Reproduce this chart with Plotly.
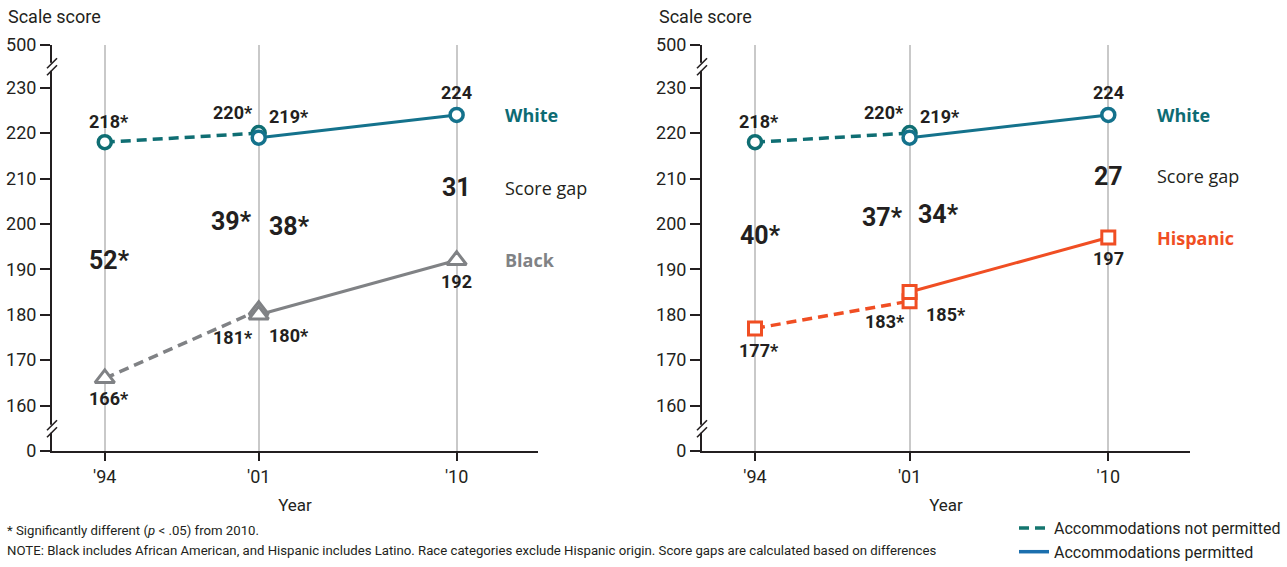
import plotly.graph_objects as go

# ---------------- data ----------------
years_np = [1994, 2001]          # accommodations not permitted
years_p = [2001, 2010]           # accommodations permitted

white_np = [218, 220]
white_np_sig = [True, True]
white_p = [219, 224]
white_p_sig = [True, False]

black_np = [166, 181]
black_np_sig = [True, True]
black_p = [180, 192]
black_p_sig = [True, False]

hisp_np = [177, 183]
hisp_np_sig = [True, True]
hisp_p = [185, 197]
hisp_p_sig = [True, False]

gap_black_np = [52, 39]
gap_black_np_sig = [True, True]
gap_black_p = [38, 31]
gap_black_p_sig = [True, False]

gap_hisp_np = [40, 37]
gap_hisp_np_sig = [True, True]
gap_hisp_p = [34, 27]
gap_hisp_p_sig = [True, False]

x_tickvals = [1994, 2001, 2010]
x_ticktext = ["'94", "'01", "'10"]
y_ticktext = ["0", "160", "170", "180", "190", "200", "210", "220", "230", "500"]

# ---------------- styles ----------------
W, H = 1287, 567
TEXT = "#231f20"
TEAL_NP = "#0f6e73"
TEAL_P = "#14728c"
TEAL_LAB = "#0d6b73"
GRAY = "#808285"
ORANGE = "#f04e23"
LEG_NP = "#14766f"
LEG_P = "#1b6fae"
COND = "Roboto, Liberation Sans, sans-serif"
SANS = "Open Sans, Lato, sans-serif"

# broken axis: 0 drawn one step below 160, 500 drawn just above 230
y_tickvals = [150, 160, 170, 180, 190, 200, 210, 220, 230, 239.4]
Y_RANGE = [150, 239.4]
X_RANGE = [1991.6, 2013.7]


def px_x(p):
    return p / W


def px_y(p):
    return 1 - p / H


def lab(v, s):
    return f"{v}*" if s else f"{v}"


fig = go.Figure()
annotations = []
shapes = []

panels = [
    dict(xa="x", ya="y", xdom=[px_x(52), px_x(538)],
         other_np=black_np, other_np_sig=black_np_sig,
         other_p=black_p, other_p_sig=black_p_sig,
         gap_np=gap_black_np, gap_np_sig=gap_black_np_sig,
         gap_p=gap_black_p, gap_p_sig=gap_black_p_sig,
         color=GRAY, symbol="triangle-up", msize=17,
         name="Black", oth_np_place=[("center", 4, -20), ("right", -4, -27)],
         oth_p_place=[("left", 8, -21), ("center", 0, -21)],
         gap_np_shift=[("center", 5), ("right", -5)],
         gap_p_shift=[("left", 8), ("center", 0)],
         side_shift=46, scale_x=6),
    dict(xa="x2", ya="y2", xdom=[px_x(702), px_x(1190)],
         other_np=hisp_np, other_np_sig=hisp_np_sig,
         other_p=hisp_p, other_p_sig=hisp_p_sig,
         gap_np=gap_hisp_np, gap_np_sig=gap_hisp_np_sig,
         gap_p=gap_hisp_p, gap_p_sig=gap_hisp_p_sig,
         color=ORANGE, symbol="square", msize=13,
         name="Hispanic", oth_np_place=[("center", 4, -22), ("right", -3, -20)],
         oth_p_place=[("left", 14, -22), ("center", 0, -21)],
         gap_np_shift=[("center", 5), ("right", -5)],
         gap_p_shift=[("left", 6), ("center", 0)],
         side_shift=47, scale_x=657),
]

white_np_place = [("center", 4, 21), ("right", -4, 21)]
white_p_place = [("left", 8, 21), ("center", 0, 22)]

for P in panels:
    xa, ya = P["xa"], P["ya"]
    # white
    fig.add_trace(go.Scatter(x=years_np, y=white_np, xaxis=xa, yaxis=ya, mode="lines+markers",
                             line=dict(color=TEAL_NP, width=3.5, dash="10px,6px"),
                             marker=dict(symbol="circle", size=13, color="white",
                                         line=dict(color=TEAL_NP, width=3.5)),
                             showlegend=False, hoverinfo="skip"))
    fig.add_trace(go.Scatter(x=years_p, y=white_p, xaxis=xa, yaxis=ya, mode="lines+markers",
                             line=dict(color=TEAL_P, width=3),
                             marker=dict(symbol="circle", size=13, color="white",
                                         line=dict(color=TEAL_P, width=3.5)),
                             showlegend=False, hoverinfo="skip"))
    # comparison group
    fig.add_trace(go.Scatter(x=years_np, y=P["other_np"], xaxis=xa, yaxis=ya, mode="lines+markers",
                             line=dict(color=P["color"], width=3.5, dash="10px,6px"),
                             marker=dict(symbol=P["symbol"], size=P["msize"], color="white",
                                         line=dict(color=P["color"], width=3)),
                             showlegend=False, hoverinfo="skip"))
    fig.add_trace(go.Scatter(x=years_p, y=P["other_p"], xaxis=xa, yaxis=ya, mode="lines+markers",
                             line=dict(color=P["color"], width=3),
                             marker=dict(symbol=P["symbol"], size=P["msize"], color="white",
                                         line=dict(color=P["color"], width=3)),
                             showlegend=False, hoverinfo="skip"))

    lab_font = dict(family=COND, size=18, color=TEXT, weight="bold")
    series = [
        (years_np, white_np, white_np_sig, white_np_place),
        (years_p, white_p, white_p_sig, white_p_place),
        (years_np, P["other_np"], P["other_np_sig"], P["oth_np_place"]),
        (years_p, P["other_p"], P["other_p_sig"], P["oth_p_place"]),
    ]
    for xs, ys, sg, place in series:
        for x, y, s, (anc, xs_, ys_) in zip(xs, ys, sg, place):
            annotations.append(dict(x=x, y=y, xref=xa, yref=ya, text=lab(y, s), showarrow=False,
                                    xanchor=anc, yanchor="middle", xshift=xs_, yshift=ys_,
                                    font=lab_font))

    # score gaps at midpoint between the two groups
    gap_font = dict(family=COND, size=25, color=TEXT, weight="bold")
    gseries = [
        (years_np, white_np, P["other_np"], P["gap_np"], P["gap_np_sig"], P["gap_np_shift"]),
        (years_p, white_p, P["other_p"], P["gap_p"], P["gap_p_sig"], P["gap_p_shift"]),
    ]
    for xs, wv, ov, gv, gs, sh in gseries:
        for x, a, b, g, s, (anc, xsh) in zip(xs, wv, ov, gv, gs, sh):
            annotations.append(dict(x=x, y=(a + b) / 2, xref=xa, yref=ya, text=lab(g, s),
                                    showarrow=False, xanchor=anc, yanchor="middle", xshift=xsh,
                                    font=gap_font))

    # side labels
    last = years_p[-1]
    annotations.append(dict(x=last, y=white_p[-1], xref=xa, yref=ya, text="White", showarrow=False,
                            xanchor="left", yanchor="middle", xshift=P["side_shift"],
                            font=dict(family=SANS, size=18, color=TEAL_LAB, weight="bold")))
    annotations.append(dict(x=last, y=(white_p[-1] + P["other_p"][-1]) / 2, xref=xa, yref=ya,
                            text="Score gap", showarrow=False, xanchor="left", yanchor="middle",
                            xshift=P["side_shift"], font=dict(family=SANS, size=18, color=TEXT)))
    annotations.append(dict(x=last, y=P["other_p"][-1], xref=xa, yref=ya, text=P["name"],
                            showarrow=False, xanchor="left", yanchor="middle",
                            xshift=P["side_shift"],
                            font=dict(family=SANS, size=18, color=P["color"], weight="bold")))

    # "Scale score" label
    annotations.append(dict(x=px_x(P["scale_x"]), y=px_y(16), xref="paper", yref="paper",
                            text="Scale score", showarrow=False, xanchor="left", yanchor="middle",
                            font=dict(family=COND, size=18, color=TEXT)))

    # axis break marks
    for yv in (234.6, 154.9):
        shapes.append(dict(type="line", xref=f"{xa} domain", yref=ya, xsizemode="pixel",
                           ysizemode="pixel", xanchor=0, yanchor=yv, x0=0, x1=0, y0=-4, y1=4,
                           line=dict(color="white", width=5)))
        for off in (-3.5, 3.5):
            shapes.append(dict(type="line", xref=f"{xa} domain", yref=ya, xsizemode="pixel",
                               ysizemode="pixel", xanchor=0, yanchor=yv, x0=-5, x1=5,
                               y0=off - 5, y1=off + 5, line=dict(color=TEXT, width=1.6)))

# legend entries
fig.add_trace(go.Scatter(x=[None], y=[None], mode="lines", name="Accommodations not permitted",
                         line=dict(color=LEG_NP, width=3.5, dash="10px,6px")))
fig.add_trace(go.Scatter(x=[None], y=[None], mode="lines", name="Accommodations permitted",
                         line=dict(color=LEG_P, width=3.5)))

# footnotes
annotations.append(dict(x=px_x(5), y=px_y(530), xref="paper", yref="paper", showarrow=False,
                        xanchor="left", yanchor="middle",
                        text="* Significantly different (<i>p</i> < .05) from 2010.",
                        font=dict(family=COND, size=13.2, color=TEXT)))
annotations.append(dict(x=px_x(5), y=px_y(550), xref="paper", yref="paper", showarrow=False,
                        xanchor="left", yanchor="middle",
                        text="NOTE: Black includes African American, and Hispanic includes Latino. "
                             "Race categories exclude Hispanic origin. Score gaps are calculated "
                             "based on differences",
                        font=dict(family=COND, size=13.2, color=TEXT)))

ydom = [px_y(451), px_y(45)]
xaxis_common = dict(range=X_RANGE, tickmode="array", tickvals=x_tickvals, ticktext=x_ticktext,
                    showgrid=True, gridcolor="#c9c9c9", gridwidth=1.5, zeroline=False,
                    showline=True, linecolor=TEXT, linewidth=2, ticks="outside", ticklen=8,
                    tickwidth=1.5, tickcolor=TEXT, automargin=False,
                    tickfont=dict(family=COND, size=18, color=TEXT),
                    title=dict(text="Year", font=dict(family=COND, size=17, color=TEXT), standoff=14),
                    fixedrange=True)
yaxis_common = dict(range=Y_RANGE, tickmode="array", tickvals=y_tickvals, ticktext=y_ticktext,
                    showgrid=False, zeroline=False, showline=True, linecolor=TEXT, linewidth=2,
                    ticks="outside", ticklen=10, tickwidth=1.5, tickcolor=TEXT, automargin=False,
                    tickfont=dict(family=COND, size=18, color=TEXT), domain=ydom,
                    fixedrange=True)

fig.update_layout(
    width=W, height=H,
    margin=dict(l=0, r=0, t=0, b=0, autoexpand=False),
    paper_bgcolor="white", plot_bgcolor="white",
    xaxis=dict(domain=panels[0]["xdom"], anchor="y", **xaxis_common),
    yaxis=dict(anchor="x", **yaxis_common),
    xaxis2=dict(domain=panels[1]["xdom"], anchor="y2", **xaxis_common),
    yaxis2=dict(anchor="x2", **yaxis_common),
    annotations=annotations,
    shapes=shapes,
    showlegend=True,
    legend=dict(x=px_x(1014), y=px_y(511), xanchor="left", yanchor="top",
                font=dict(family=COND, size=16, color=TEXT), tracegroupgap=0,
                itemwidth=30, bgcolor="rgba(0,0,0,0)"),
)

# remove the browser's default page margin so the figure fills the window exactly
fig.write_html("out.html", config={"displayModeBar": False},
               post_script="document.body.style.margin='0';document.body.style.overflow='hidden';")
